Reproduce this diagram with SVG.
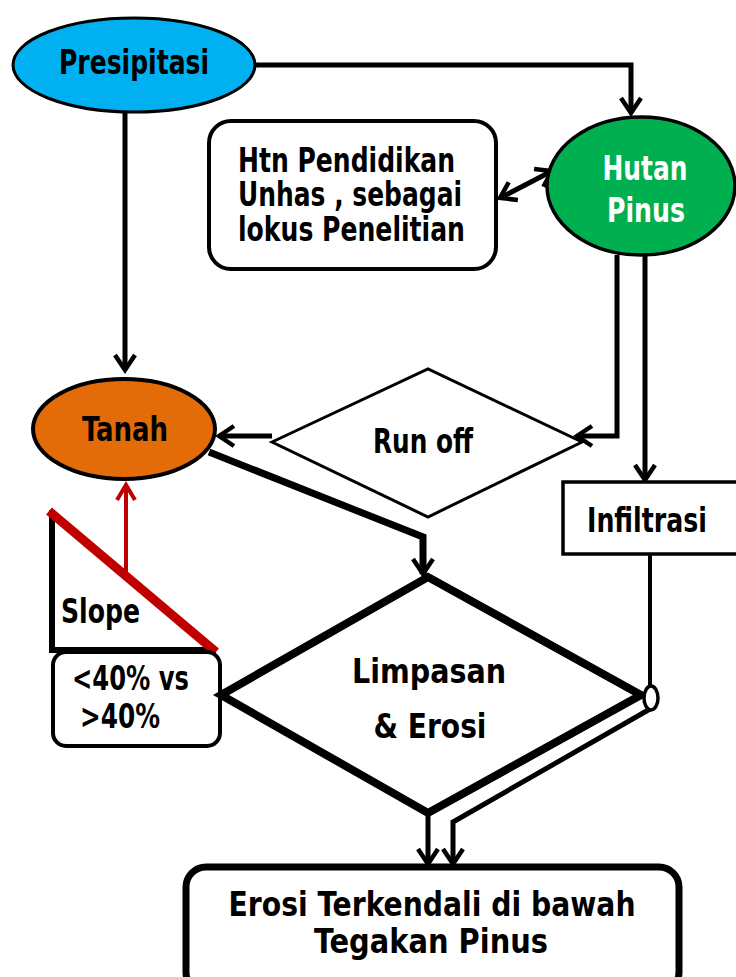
<svg xmlns="http://www.w3.org/2000/svg" width="736" height="977" viewBox="0 0 736 977">
<style>
.t{font-family:"Liberation Sans Narrow","DejaVu Sans Condensed","Liberation Sans",sans-serif;font-weight:bold;font-size:33px;fill:#000}
.w{fill:#fff}
.c{fill:none;stroke:#000;stroke-width:5;stroke-linejoin:miter}
</style>
<defs>
<marker id="ah" viewBox="-20 -14 24 28" markerWidth="24" markerHeight="28" refX="0" refY="0" orient="auto" markerUnits="userSpaceOnUse">
<path d="M-15 -10 L0 0 L-15 10" fill="none" stroke="#000" stroke-width="4.5"/>
</marker>
<marker id="ahs" viewBox="-20 -14 24 28" markerWidth="24" markerHeight="28" refX="0" refY="0" orient="auto-start-reverse" markerUnits="userSpaceOnUse">
<path d="M-15 -10 L0 0 L-15 10" fill="none" stroke="#000" stroke-width="4.5"/>
</marker>
<marker id="ahr" viewBox="-20 -14 24 28" markerWidth="24" markerHeight="28" refX="0" refY="0" orient="auto" markerUnits="userSpaceOnUse">
<path d="M-15 -9 L0 0 L-15 9" fill="none" stroke="#C00000" stroke-width="4"/>
</marker>
</defs>

<g id="connectors">
<path class="c" d="M256 65 H631 V113" marker-end="url(#ah)"/>
<path class="c" d="M125 112 V370" marker-end="url(#ah)"/>
<path class="c" d="M500 198 L552 171" marker-start="url(#ahs)" marker-end="url(#ah)"/>
<path class="c" d="M617 255 V436 H577" marker-end="url(#ah)"/>
<path class="c" d="M645 255 V480" marker-end="url(#ah)"/>
<path class="c" d="M272 436 H219" marker-end="url(#ah)"/>
<path class="c" d="M209 452 L423 537 V574" style="stroke-width:7" marker-end="url(#ah)"/>
<path d="M126 572 V485" fill="none" stroke="#C00000" stroke-width="4" marker-end="url(#ahr)"/>
<path class="c" d="M650 554 V686" style="stroke-width:4"/>
<path class="c" d="M650 709 L453 822 V864" style="stroke-width:5" marker-end="url(#ah)"/>
<path class="c" d="M428 813 V864" style="stroke-width:5" marker-end="url(#ah)"/>
</g>

<g id="presipitasi">
<ellipse cx="134" cy="65" rx="121" ry="47" fill="#00B0F0" stroke="#000" stroke-width="3"/>
<text class="t" x="134" y="74" text-anchor="middle" textLength="150" lengthAdjust="spacingAndGlyphs">Presipitasi</text>
</g>

<g id="hutan-pinus">
<ellipse cx="641" cy="186" rx="94" ry="69" fill="#00B050" stroke="#000" stroke-width="3.5"/>
<text class="t w" x="645" y="180" text-anchor="middle" textLength="85" lengthAdjust="spacingAndGlyphs">Hutan</text>
<text class="t w" x="646" y="222" text-anchor="middle" textLength="78" lengthAdjust="spacingAndGlyphs">Pinus</text>
</g>

<g id="htn-pendidikan">
<rect x="209" y="121" width="287" height="148" rx="22" fill="#fff" stroke="#000" stroke-width="4"/>
<text class="t" x="238" y="172" textLength="217" lengthAdjust="spacingAndGlyphs">Htn Pendidikan</text>
<text class="t" x="238" y="206" textLength="224" lengthAdjust="spacingAndGlyphs">Unhas , sebagai</text>
<text class="t" x="238" y="241" textLength="227" lengthAdjust="spacingAndGlyphs">lokus Penelitian</text>
</g>

<g id="tanah">
<ellipse cx="124" cy="429" rx="91" ry="50" fill="#E36C09" stroke="#000" stroke-width="4"/>
<text class="t" x="125" y="441" text-anchor="middle" textLength="86" lengthAdjust="spacingAndGlyphs">Tanah</text>
</g>

<g id="run-off">
<polygon points="272,442 428,369 582,442 428,517" fill="#fff" stroke="#000" stroke-width="3"/>
<text class="t" x="423" y="453" text-anchor="middle" textLength="100" lengthAdjust="spacingAndGlyphs">Run off</text>
</g>

<g id="infiltrasi">
<rect x="563" y="482" width="180" height="72" fill="#fff" stroke="#000" stroke-width="3.5"/>
<text class="t" x="587" y="532" textLength="120" lengthAdjust="spacingAndGlyphs">Infiltrasi</text>
</g>

<g id="slope">
<path d="M52 510 V650 H216" fill="none" stroke="#000" stroke-width="6"/>
<line x1="49" y1="511" x2="216" y2="652" stroke="#C00000" stroke-width="9"/>
<text class="t" x="61" y="623" textLength="79" lengthAdjust="spacingAndGlyphs">Slope</text>
</g>

<g id="slope-class">
<rect x="53" y="652" width="167" height="94" rx="13" fill="#fff" stroke="#000" stroke-width="4"/>
<text class="t" x="72" y="690" textLength="117" lengthAdjust="spacingAndGlyphs">&lt;40% vs</text>
<text class="t" x="80" y="728" textLength="80" lengthAdjust="spacingAndGlyphs">&gt;40%</text>
</g>

<g id="limpasan-erosi">
<polygon points="221,695 428,577 641,695 428,813" fill="#fff" stroke="#000" stroke-width="8"/>
<text class="t" x="429" y="683" text-anchor="middle" textLength="154" lengthAdjust="spacingAndGlyphs">Limpasan</text>
<text class="t" x="430" y="738" text-anchor="middle" textLength="113" lengthAdjust="spacingAndGlyphs">&amp; Erosi</text>
<ellipse cx="651" cy="698" rx="7" ry="12" fill="#fff" stroke="#000" stroke-width="3.5"/>
</g>

<g id="erosi-terkendali">
<rect x="186" y="867" width="493" height="125" rx="20" fill="#fff" stroke="#000" stroke-width="7"/>
<text class="t" x="432" y="916" text-anchor="middle" textLength="407" lengthAdjust="spacingAndGlyphs">Erosi Terkendali di bawah</text>
<text class="t" x="431" y="953" text-anchor="middle" textLength="234" lengthAdjust="spacingAndGlyphs">Tegakan Pinus</text>
</g>
</svg>
